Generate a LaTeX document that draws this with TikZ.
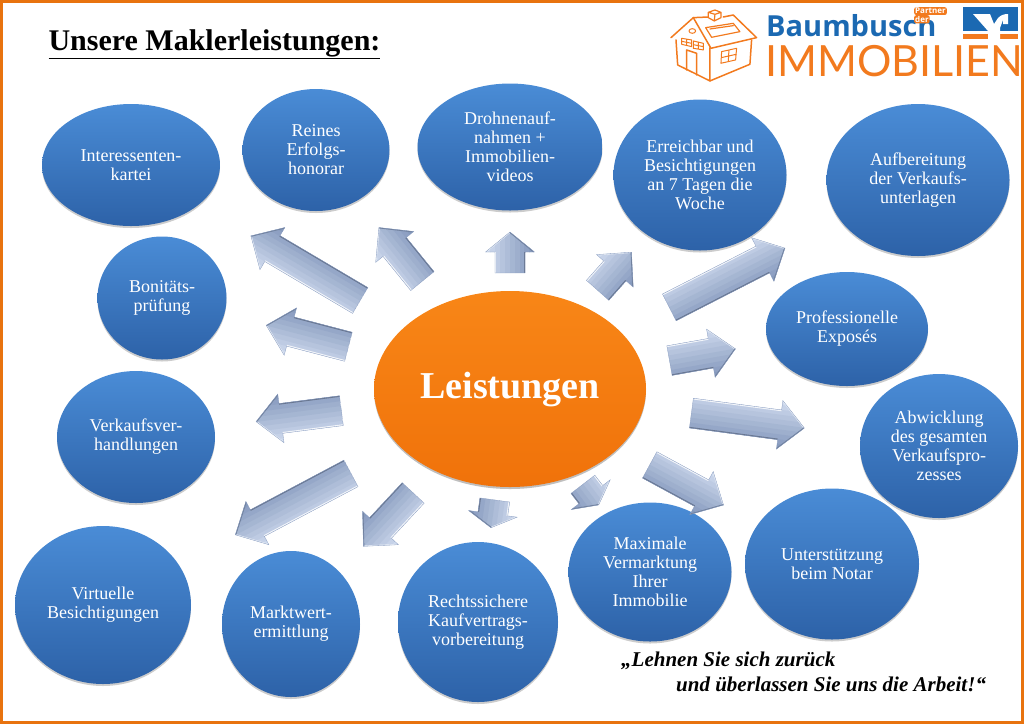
\documentclass[tikz,border=0pt]{standalone}
\usepackage{fontspec}
\setmainfont{Liberation Serif}
\newfontfamily\logofont{Lato}
\newfontfamily\brandfont{Open Sans}
\usetikzlibrary{shapes.geometric,calc,shadows}

\definecolor{frameorange}{HTML}{E8730F}
\definecolor{logoorange}{HTML}{F27A1E}
\definecolor{logoblue}{HTML}{1B69B2}
\definecolor{bubbletop}{HTML}{4A8CD6}
\definecolor{bubblebottom}{HTML}{2D62A8}
\definecolor{hubtop}{HTML}{F88617}
\definecolor{hubbottom}{HTML}{F0720A}
\definecolor{arrowlight}{HTML}{CAD6EB}
\definecolor{arrowdark}{HTML}{8A9DC0}

\begin{document}
\begin{tikzpicture}
    [x=1pt, y=-1pt,
     bubble/.style={ellipse, inner sep=0pt, align=center, text=white,
        top color=bubbletop, bottom color=bubblebottom,
        drop shadow={shadow xshift=0pt, shadow yshift=-2pt, fill=black, opacity=.2},
        font=\fontsize{18}{19}\selectfont},
     hub/.style={ellipse, inner sep=0pt, text=white,
        top color=hubtop, bottom color=hubbottom,
        drop shadow={shadow xshift=0pt, shadow yshift=-2pt, fill=black, opacity=.25},
        font=\bfseries\fontsize{38}{40}\selectfont},
     flowarrow/.style n args={3}{line width=.3pt, draw=arrowdark,
        path picture={
            \coordinate (bl) at ($(hl)+(tail)-(neck)$);
            \coordinate (br) at ($(hr)+(tail)-(neck)$);
            \coordinate (fl) at ($(hl)+(tip)-(neck)$);
            \coordinate (fr) at ($(hr)+(tip)-(neck)$);
            \foreach \f [evaluate=\f as \mixval using int(100-125*(\f-.1))] in {.05,.15,...,.95}
                \draw[line width=5.5pt, arrowlight!\mixval!arrowdark] ($(bl)!\f!(br)$) -- ($(fl)!\f!(fr)$);
            \draw[line width=2.6pt, white!75!arrowlight] (tl) -- (nl);
            \draw[line width=1.6pt, white!55!arrowlight] (hl) -- (tip);
            \draw[line width=2.2pt, arrowdark!75!black] (tr) -- (nr);
            \draw[line width=1.8pt, arrowdark!80!black] (hr) -- (tip);
        },
        to path={
            ($(\tikztostart)!#1pt!(\tikztotarget)$) coordinate (tail)
            ($(\tikztostart)!#2pt!(\tikztotarget)$) coordinate (tip)
            ($(tip)!#3pt!(tail)$) coordinate (neck)
            ($(tail)!15pt!90:(tip)$) coordinate (tl)
            -- ($(neck)!15pt!-90:(tail)$) coordinate (nl)
            -- ($(neck)!24.5pt!-90:(tail)$) coordinate (hl)
            -- (tip)
            -- ($(neck)!24.5pt!90:(tail)$) coordinate (hr)
            -- ($(neck)!15pt!90:(tail)$) coordinate (nr)
            -- ($(tail)!15pt!-90:(tip)$) coordinate (tr)
            -- cycle}},
     houseline/.style={draw=logoorange, line width=1.5pt, line join=round, line cap=round}]
    \useasboundingbox (0,0) rectangle (1024,724);
    \draw[frameorange, line width=3.5pt] (1.7,1.7) rectangle (1022.3,722.3);

    \node[anchor=west, font=\bfseries\fontsize{30}{32}\selectfont] (Titel) at (45,44) {\underline{Unsere Maklerleistungen:}};

    \node[bubble, minimum width=178pt, minimum height=122pt] (Interessenten) at (131,165) {Interessenten-\\kartei};
    \node[bubble, minimum width=147pt, minimum height=122pt] (Reines) at (316,150) {Reines\\Erfolgs-\\honorar};
    \node[bubble, minimum width=185pt, minimum height=127pt] (Drohnen) at (510,147) {Drohnenauf-\\nahmen +\\Immobilien-\\videos};
    \node[bubble, minimum width=173pt, minimum height=151pt] (Erreichbar) at (700,175) {Erreichbar und\\Besichtigungen\\an 7 Tagen die\\Woche};
    \node[bubble, minimum width=183pt, minimum height=152pt] (Aufbereitung) at (918,180) {Aufbereitung\\der Verkaufs-\\unterlagen};
    \node[bubble, minimum width=162pt, minimum height=114pt] (Exposes) at (847,329) {Professionelle\\Exposés};
    \node[bubble, minimum width=158pt, minimum height=144pt] (Abwicklung) at (939,446) {Abwicklung\\des gesamten\\Verkaufspro-\\zesses};
    \node[bubble, minimum width=174pt, minimum height=151pt] (Notar) at (832,564) {Unterstützung\\beim Notar};
    \node[bubble, minimum width=163pt, minimum height=139pt] (Vermarktung) at (650,572) {Maximale\\Vermarktung\\Ihrer\\Immobilie};
    \node[bubble, minimum width=160pt, minimum height=160pt] (Kaufvertrag) at (478,622) {Rechtssichere\\Kaufvertrags-\\vorbereitung};
    \node[bubble, minimum width=138pt, minimum height=146pt] (Marktwert) at (291,624) {Marktwert-\\ermittlung};
    \node[bubble, minimum width=176pt, minimum height=158pt] (Virtuelle) at (103,605) {Virtuelle\\Besichtigungen};
    \node[bubble, minimum width=158pt, minimum height=132pt] (Verhandlung) at (136,437) {Verkaufsver-\\handlungen};
    \node[bubble, minimum width=129pt, minimum height=123pt] (Bonitaet) at (162,298) {Bonitäts-\\prüfung};
    \node[hub, minimum width=272pt, minimum height=196pt] (Leistungen) at (510,389) {Leistungen};

    \path[flowarrow={174}{301}{25}] (Leistungen) to (Interessenten);
    \path[flowarrow={139}{208}{25}] (Leistungen) to (Reines);
    \path[flowarrow={116}{157}{20}] (Leistungen) to (Drohnen);
    \path[flowarrow={132}{183}{25}] (Leistungen) to (Erreichbar);
    \path[flowarrow={179}{309}{25}] (Leistungen) to (Aufbereitung);
    \path[flowarrow={162}{229}{25}] (Leistungen) to (Exposes);
    \path[flowarrow={183}{297}{25}] (Leistungen) to (Abwicklung);
    \path[flowarrow={159}{243}{25}] (Leistungen) to (Notar);
    \path[flowarrow={120}{146}{13}] (Leistungen) to (Vermarktung);
    \path[flowarrow={112}{140}{14}] (Leistungen) to (Kaufvertrag);
    \path[flowarrow={142}{215}{25}] (Leistungen) to (Marktwert);
    \path[flowarrow={180}{311}{25}] (Leistungen) to (Virtuelle);
    \path[flowarrow={170}{256}{25}] (Leistungen) to (Verhandlung);
    \path[flowarrow={167}{252}{25}] (Leistungen) to (Bonitaet);

    \node[anchor=north west, inner sep=0pt, align=left, font=\bfseries\itshape\fontsize{21}{25}\selectfont] (Spruch) at (621,652)
        {„Lehnen Sie sich zurück\\\hspace*{55pt}und überlassen Sie uns die Arbeit!“};

    % logo
    \node[anchor=west, inner sep=0pt, text=logoblue, font=\brandfont\bfseries\fontsize{29}{30}\selectfont] (Baumbusch) at (766,26) {Baumbusch};
    \node[anchor=west, inner sep=0pt, text=logoorange, font=\logofont\fontsize{43}{44}\selectfont] (Immobilien) at (765,61) {IMMOBILIEN};
    \node[anchor=north west, inner sep=1pt, rounded corners=2pt, fill=logoorange, text=white, font=\brandfont\bfseries\fontsize{8}{8}\selectfont] (Der) at (914,15) {der};
    \node[anchor=north west, inner sep=1pt, rounded corners=2pt, fill=logoorange, text=white, font=\brandfont\bfseries\fontsize{8}{8}\selectfont] (Partner) at (914,7) {Partner};

    \fill[logoblue] (963,7) rectangle (1018,31);
    \fill[logoorange] (963,34) rectangle (1018,39);
    \fill[white] (973,14) -- (990,14) -- (994,24) -- (998,18) .. controls (1001,15) and (1004,14) .. (1008,14)
        -- (1008,24) -- (1003,24) -- (1003,20) -- (1000,28) -- (1000,40) -- (988,40) -- (988,31) -- cycle;

    \begin{scope}[shift={(665,5)}, x=.333pt, y=-.333pt]
        \draw[houseline] (18,98) -- (85,38) -- (138,130) -- (275,98) -- (205,30) -- (175,36);
        \draw[houseline] (85,38) -- (130,36);
        \draw[houseline] (33,105) -- (38,180) -- (135,228) -- (135,128);
        \draw[houseline] (135,228) -- (255,178) -- (260,105);
        \draw[houseline] (65,135) -- (95,145) -- (95,210) (65,135) -- (65,195);
        \draw[houseline, line width=1pt] (50,100) -- (80,105) -- (80,125) -- (50,118) -- cycle (65,102) -- (65,122) (50,109) -- (80,115);
        \draw[houseline, line width=1pt] (85,108) -- (115,115) -- (115,135) -- (85,130) -- cycle (100,111) -- (100,132) (85,119) -- (115,125);
        \draw[houseline, line width=1pt] (170,140) -- (215,130) -- (212,165) -- (168,175) -- cycle (192,135) -- (190,170) (169,158) -- (214,148);
        \draw[houseline, line width=1pt] (82,78) ellipse (10 and 7);
        \draw[houseline, line width=1.2pt] (122,68) -- (205,55) -- (225,80) -- (140,97) -- cycle (135,72) -- (205,62);
        \draw[houseline, line width=1.2pt] (130,22) -- (150,15) -- (168,22) -- (168,38) -- (148,48) -- (130,38) -- cycle (130,22) -- (150,28) -- (168,22) (150,28) -- (148,48);
    \end{scope}

\end{tikzpicture}
\end{document}
